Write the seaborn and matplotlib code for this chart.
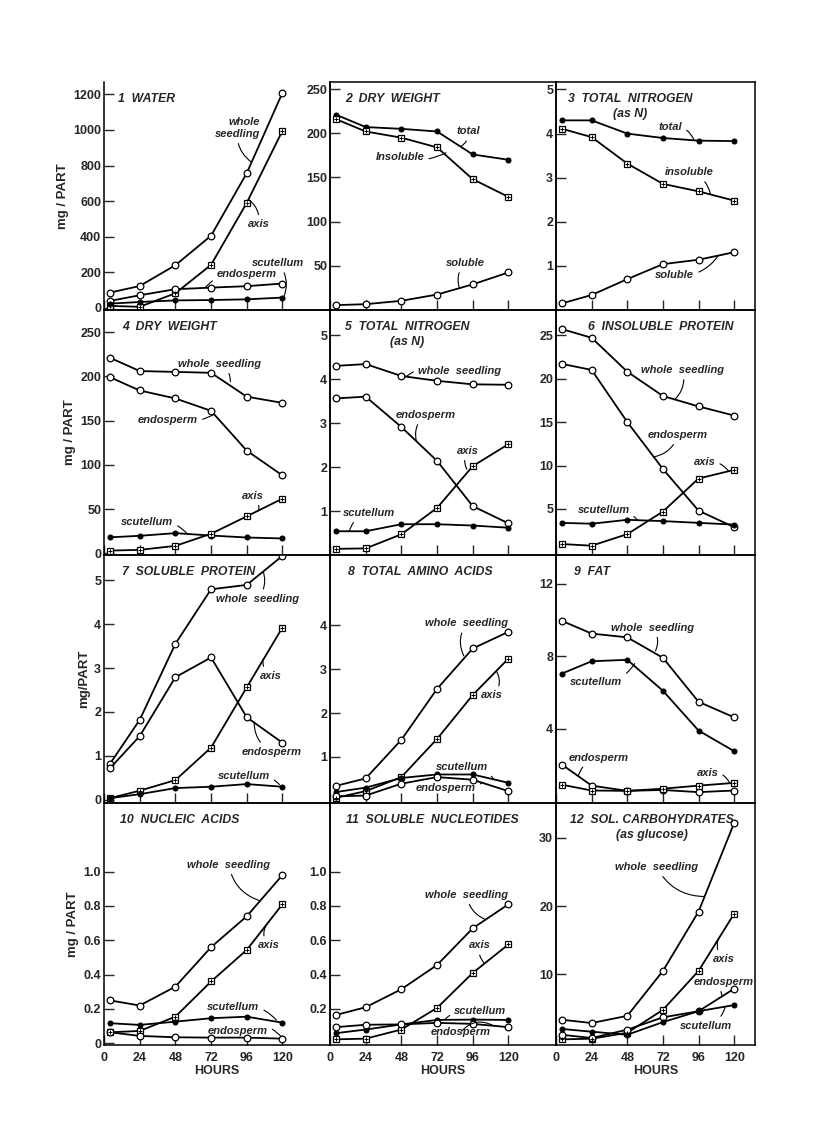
import numpy as np
import pandas as pd
import seaborn as sns
import matplotlib.pyplot as plt

# sampling times (hours)
hours = [4, 24, 48, 72, 96, 120]
hour_ticks = [0, 24, 48, 72, 96, 120]

# 1 water
water_whole = [85, 122, 239, 405, 757, 1209]
water_axis = [10, 5, 81, 241, 590, 995]
water_endo = [38, 70, 104, 113, 121, 136]
water_scut = [23, 32, 41, 43, 47, 57]

# 2 dry weight (whole seedling fractions)
dw_total = [221, 207, 205, 202, 176, 170]
dw_insol = [216, 202, 195, 184, 148, 128]
dw_sol = [5.5, 6.6, 10.4, 17.5, 29, 42.5]

# 3 total nitrogen
tn_total = [4.30, 4.30, 4.00, 3.90, 3.84, 3.83]
tn_insol = [4.11, 3.92, 3.32, 2.86, 2.69, 2.48]
tn_sol = [0.15, 0.34, 0.70, 1.04, 1.14, 1.31]

# 4 dry weight by part
dwp_whole = [221, 206, 205, 204, 177, 170]
dwp_endo = [199, 184, 175, 161, 116, 88]
dwp_scut = [18, 19.7, 22.7, 20, 17.8, 16.7]
dwp_axis = [3, 3.8, 8.3, 22, 41.7, 61.7]

# 5 total nitrogen by part
tnp_whole = [4.30, 4.34, 4.07, 3.96, 3.88, 3.87]
tnp_endo = [3.56, 3.60, 2.91, 2.14, 1.11, 0.72]
tnp_axis = [0.14, 0.15, 0.47, 1.07, 2.02, 2.52]
tnp_scut = [0.54, 0.54, 0.70, 0.70, 0.67, 0.62]

# 6 insoluble protein
ip_whole = [25.7, 24.7, 20.8, 18.0, 16.8, 15.75]
ip_endo = [21.7, 21.0, 15.0, 9.6, 4.8, 2.9]
ip_axis = [0.96, 0.77, 2.1, 4.7, 8.5, 9.5]
ip_scut = [3.4, 3.3, 3.75, 3.6, 3.4, 3.2]

# 7 soluble protein
sp_whole = [0.82, 1.82, 3.55, 4.79, 4.89, 5.55]
sp_endo = [0.72, 1.45, 2.79, 3.24, 1.88, 1.30]
sp_axis = [0.04, 0.21, 0.45, 1.19, 2.56, 3.92]
sp_scut = [0.04, 0.13, 0.27, 0.30, 0.36, 0.30]

# 8 total amino acids
aa_whole = [0.34, 0.51, 1.39, 2.55, 3.47, 3.85]
aa_axis = [0.07, 0.22, 0.54, 1.41, 2.41, 3.24]
aa_scut = [0.20, 0.30, 0.52, 0.60, 0.60, 0.41]
aa_endo = [0.10, 0.12, 0.39, 0.54, 0.48, 0.22]

# 9 fat
fat_whole = [9.96, 9.26, 9.05, 7.92, 5.49, 4.63]
fat_scut = [7.05, 7.73, 7.81, 6.10, 3.90, 2.76]
fat_endo = [2.02, 0.86, 0.57, 0.62, 0.50, 0.59]
fat_axis = [0.91, 0.59, 0.57, 0.69, 0.86, 1.01]

# 10 nucleic acids
na_whole = [0.25, 0.22, 0.33, 0.56, 0.74, 0.98]
na_axis = [0.064, 0.072, 0.155, 0.36, 0.544, 0.81]
na_scut = [0.117, 0.107, 0.126, 0.146, 0.155, 0.12]
na_endo = [0.064, 0.043, 0.035, 0.033, 0.033, 0.027]

# 11 soluble nucleotides
sn_whole = [0.165, 0.21, 0.315, 0.456, 0.67, 0.81]
sn_axis = [0.023, 0.027, 0.08, 0.206, 0.41, 0.576]
sn_scut = [0.059, 0.08, 0.11, 0.136, 0.138, 0.136]
sn_endo = [0.094, 0.108, 0.11, 0.119, 0.113, 0.094]

# 12 soluble carbohydrates
sc_whole = [3.35, 2.87, 3.92, 10.5, 19.2, 32.2]
sc_axis = [0.48, 0.57, 1.44, 4.8, 10.5, 18.9]
sc_endo = [1.15, 0.67, 1.9, 3.7, 4.6, 7.9]
sc_scut = [2.0, 1.6, 1.15, 3.0, 4.6, 5.5]

sns.set_style("ticks")
plt.rcParams['font.family'] = ['Liberation Sans', 'DejaVu Sans']
plt.rcParams['font.weight'] = 'bold'

# marker kinds: open circle, dot, crossed square
OPEN, DOT, SQ = "open", "dot", "sq"

panels = [
    dict(title="1  WATER", tx=0.06, ylim=(-13, 1270), yt=[0, 200, 400, 600, 800, 1000, 1200],
         series=[(water_whole, OPEN), (water_axis, SQ), (water_endo, OPEN), (water_scut, DOT)],
         notes=[("whole\nseedling", (90, 1010), (99, 820), 0.3),
                ("axis", (104, 470), (97, 610), 0.3),
                ("endosperm", (96, 188), (68, 112), 0.3),
                ("scutellum", (117, 250), (121, 62), -0.3)]),
    dict(title="2  DRY  WEIGHT", tx=0.066, ylim=(0, 258), yt=[50, 100, 150, 200, 250],
         series=[(dw_total, DOT), (dw_insol, SQ), (dw_sol, OPEN)],
         notes=[("total", (93, 202), (88, 185), -0.3),
                ("Insoluble", (47, 173), (78, 178), 0.2),
                ("soluble", (91, 53), (87, 25), 0.3)]),
    dict(title="3  TOTAL  NITROGEN\n(as N)", tx=0.06, ylim=(0, 5.17), yt=[1, 2, 3, 4, 5],
         series=[(tn_total, DOT), (tn_insol, SQ), (tn_sol, OPEN)],
         notes=[("total", (77, 4.14), (93, 3.85), -0.4),
                ("insoluble", (90, 3.12), (104, 2.63), -0.3),
                ("soluble", (80, 0.80), (109, 1.22), 0.3)]),
    dict(title="4  DRY  WEIGHT", tx=0.08, ylim=(-2, 275), yt=[0, 50, 100, 150, 200, 250],
         series=[(dwp_whole, OPEN), (dwp_endo, OPEN), (dwp_scut, DOT), (dwp_axis, SQ)],
         notes=[("whole  seedling", (78, 214), (85, 194), -0.3),
                ("endosperm", (43, 151), (74, 157), 0.2),
                ("axis", (100, 65), (104, 48), -0.3),
                ("scutellum", (29, 35), (56, 22), -0.3)]),
    dict(title="5  TOTAL  NITROGEN\n(as N)", tx=0.066, ylim=(0, 5.57), yt=[1, 2, 3, 4, 5],
         series=[(tnp_whole, OPEN), (tnp_endo, OPEN), (tnp_axis, SQ), (tnp_scut, DOT)],
         notes=[("whole  seedling", (87, 4.19), (51, 4.05), 0.3),
                ("endosperm", (64, 3.18), (58, 2.6), 0.3),
                ("axis", (93, 2.37), (92, 1.95), 0.3),
                ("scutellum", (26, 0.95), (13, 0.54), 0.3)]),
    dict(title="6  INSOLUBLE  PROTEIN", tx=0.16, ylim=(-0.3, 27.9), yt=[5, 10, 15, 20, 25],
         series=[(ip_whole, OPEN), (ip_endo, OPEN), (ip_axis, SQ), (ip_scut, DOT)],
         notes=[("whole  seedling", (85, 21), (80, 17.6), -0.3),
                ("endosperm", (82, 13.5), (66, 11), -0.3),
                ("axis", (100, 10.4), (116, 9.4), -0.3),
                ("scutellum", (32, 4.9), (55, 3.7), -0.3)]),
    dict(title="7  SOLUBLE  PROTEIN", tx=0.08, ylim=(-0.07, 5.57), yt=[0, 1, 2, 3, 4, 5],
         series=[(sp_whole, OPEN), (sp_endo, OPEN), (sp_axis, SQ), (sp_scut, DOT)],
         notes=[("whole  seedling", (103, 4.58), (107, 5.2), 0.3),
                ("axis", (112, 2.82), (107, 3.2), -0.3),
                ("endosperm", (113, 1.10), (101, 1.75), -0.3),
                ("scutellum", (94, 0.55), (118, 0.35), -0.3)]),
    dict(title="8  TOTAL  AMINO  ACIDS", tx=0.08, ylim=(-0.05, 5.6), yt=[1, 2, 3, 4],
         series=[(aa_whole, OPEN), (aa_axis, SQ), (aa_scut, DOT), (aa_endo, OPEN)],
         notes=[("whole  seedling", (92, 4.04), (90, 3.3), 0.3),
                ("axis", (109, 2.4), (112, 2.95), 0.4),
                ("scutellum", (89, 0.77), (110, 0.5), -0.3),
                ("endosperm", (78, 0.29), (103, 0.42), 0.2)]),
    dict(title="9  FAT", tx=0.09, ylim=(-0.1, 13.6), yt=[4, 8, 12],
         series=[(fat_whole, OPEN), (fat_scut, DOT), (fat_endo, OPEN), (fat_axis, SQ)],
         notes=[("whole  seedling", (65, 9.58), (67, 8.3), -0.3),
                ("scutellum", (27, 6.57), (53, 7.6), 0.3),
                ("endosperm", (29, 2.4), (15, 1.4), 0.3),
                ("axis", (102, 1.54), (117, 1.0), -0.4)]),
    dict(title="10  NUCLEIC  ACIDS", tx=0.07, ylim=(-0.01, 1.40), yt=[0, 0.2, 0.4, 0.6, 0.8, 1.0],
         series=[(na_whole, OPEN), (na_axis, SQ), (na_scut, DOT), (na_endo, OPEN)],
         notes=[("whole  seedling", (84, 1.04), (105, 0.83), 0.3),
                ("axis", (111, 0.57), (110, 0.7), -0.4),
                ("scutellum", (87, 0.21), (116, 0.135), -0.3),
                ("endosperm", (90, 0.074), (119, 0.04), -0.4)]),
    dict(title="11  SOLUBLE  NUCLEOTIDES", tx=0.07, ylim=(-0.01, 1.40), yt=[0.2, 0.4, 0.6, 0.8, 1.0],
         series=[(sn_whole, OPEN), (sn_axis, SQ), (sn_scut, DOT), (sn_endo, OPEN)],
         notes=[("whole  seedling", (92, 0.865), (105, 0.72), 0.3),
                ("axis", (101, 0.57), (104, 0.465), 0.3),
                ("scutellum", (101, 0.186), (77, 0.137), 0.3),
                ("endosperm", (88, 0.065), (110, 0.102), -0.4)]),
    dict(title="12  SOL. CARBOHYDRATES\n(as glucose)", tx=0.07, ylim=(-0.35, 35.1), yt=[10, 20, 30],
         series=[(sc_whole, OPEN), (sc_axis, SQ), (sc_endo, OPEN), (sc_scut, DOT)],
         notes=[("whole  seedling", (68, 25.7), (100, 21.4), 0.3),
                ("axis", (113, 12.2), (109, 15), -0.3),
                ("endosperm", (113, 8.9), (112, 6.8), 0.3),
                ("scutellum", (101, 2.5), (114, 5.3), 0.3)]),
]

fig = plt.figure(figsize=(8.16, 11.21), dpi=100)
gs = fig.add_gridspec(4, 3, left=104/816, right=755/816, top=1-82/1121, bottom=1-1045/1121,
                      wspace=0, hspace=0, height_ratios=[228, 245, 248, 242],
                      width_ratios=[226, 226, 199])
xmax = [152, 152, 134]
row_h = [228, 245, 248, 242]

for i, p in enumerate(panels):
    r, c = divmod(i, 3)
    ax = fig.add_subplot(gs[r, c])
    ax.patch.set_alpha(0)
    for vals, kind in p["series"]:
        if kind == DOT:
            sns.lineplot(x=hours, y=vals, ax=ax, color="black", lw=1.3, marker="o",
                         markersize=3.6, markerfacecolor="black", markeredgecolor="black")
        else:
            sns.lineplot(x=hours, y=vals, ax=ax, color="black", lw=1.3,
                         marker="o" if kind == OPEN else "s", markersize=4.8,
                         markerfacecolor="white", markeredgecolor="black", markeredgewidth=0.9)
            if kind == SQ:
                sns.scatterplot(x=hours, y=vals, ax=ax, marker="+", s=9, color="black",
                                linewidth=0.7, zorder=5)
    for label, xy_t, xy, rad in p["notes"]:
        ax.annotate(label, xy=xy, xytext=xy_t, ha="center", va="center", fontsize=8,
                    style="italic", weight="bold", multialignment="right",
                    arrowprops=dict(arrowstyle="-", lw=0.8, color="black", shrinkA=1, shrinkB=0,
                                    connectionstyle=f"arc3,rad={rad}"))
    ax.text(p["tx"], 1 - 11/row_h[r], p["title"], transform=ax.transAxes, va="top", ha="left",
            fontsize=8.8, style="italic", weight="bold", multialignment="center", linespacing=1.3)
    ax.set_xlim(0, xmax[c])
    ax.set_ylim(*p["ylim"])
    ax.set_xticks(hour_ticks)
    ax.set_yticks(p["yt"])
    if i == 9 or i == 10:
        ax.set_yticklabels(["0" if v == 0 else f"{v:.1f}" for v in p["yt"]])
    ax.tick_params(direction="in", length=7, width=1, labelsize=9, pad=2)
    if r == 3:
        ax.set_xlabel("HOURS", fontsize=9, weight="bold", labelpad=1)
        ax.tick_params(axis="x", pad=5)
    else:
        ax.tick_params(axis="x", labelbottom=False)
    if c == 0:
        ax.set_ylabel("mg / PART" if r != 2 else "mg/PART", fontsize=9.5, weight="bold", labelpad=3)
    else:
        ax.set_ylabel("")
    for s in ax.spines.values():
        s.set_linewidth(1.1)
        s.set_color("black")
    if i == 0:
        ax.spines["top"].set_visible(False)

fig.savefig("out.png", dpi=100)
